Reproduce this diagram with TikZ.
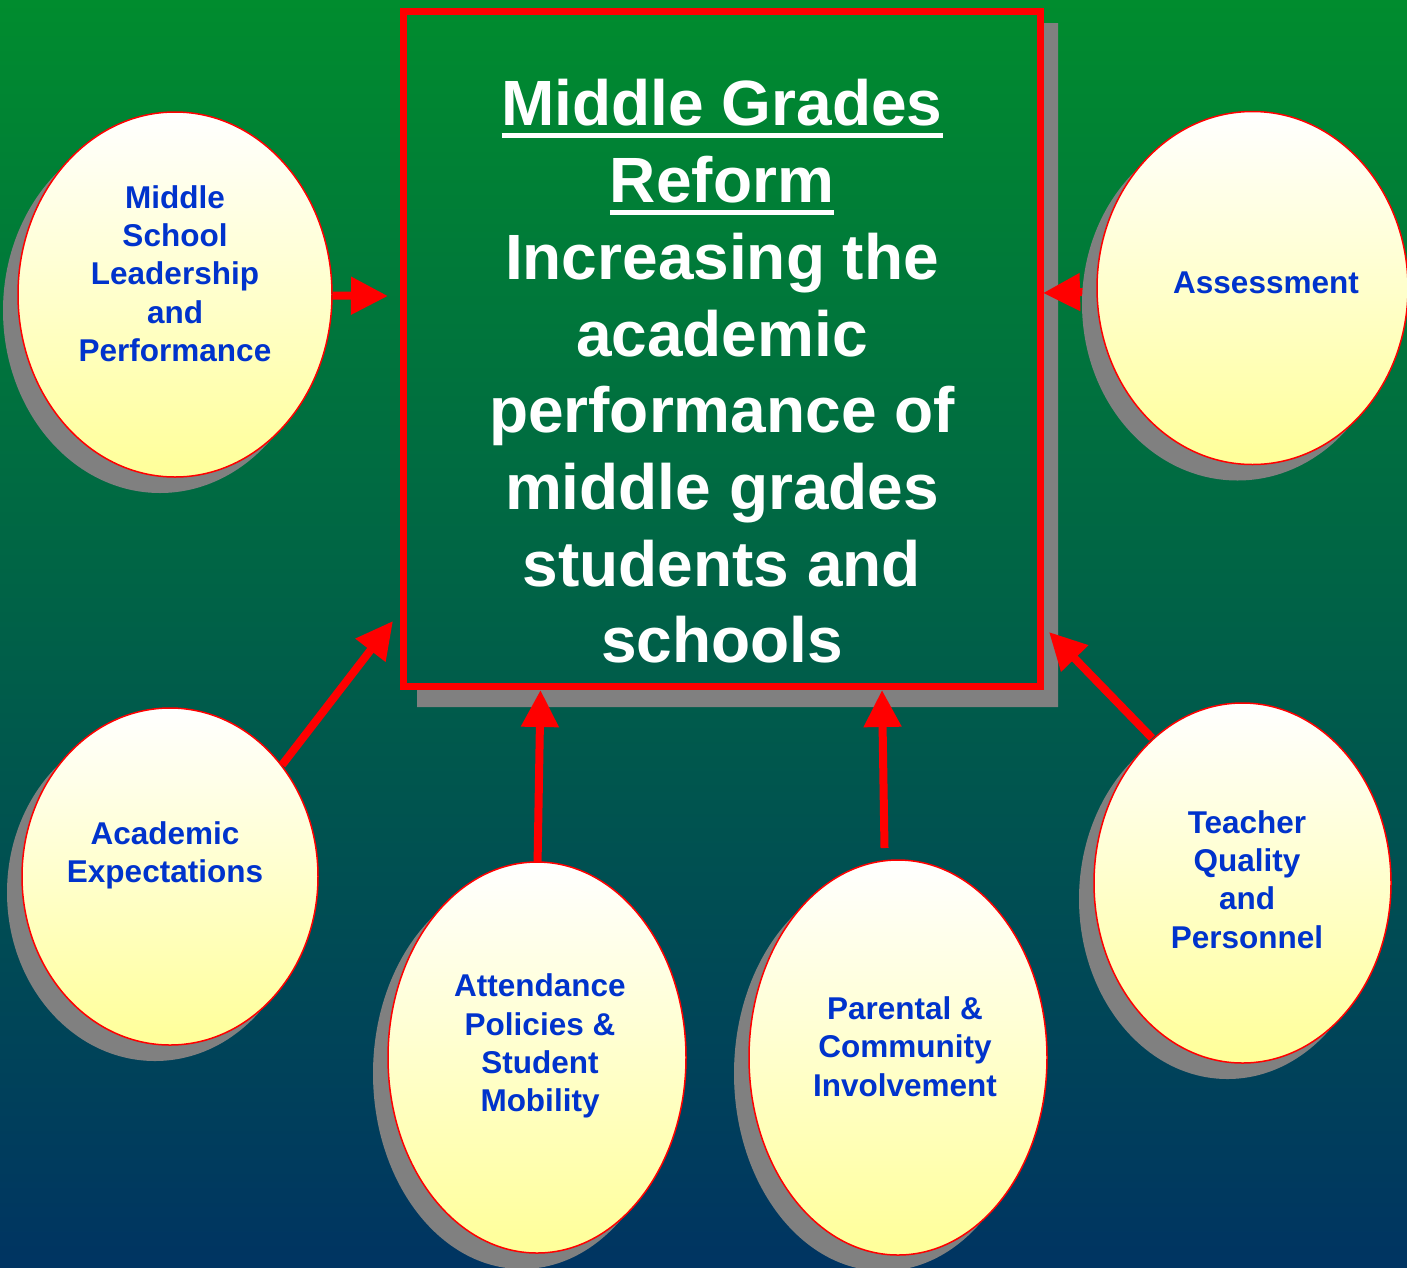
\documentclass[tikz,border=0pt]{standalone}
\usepackage{fontspec}
\setmainfont{Liberation Sans}
\usetikzlibrary{arrows.meta,shadows}
\definecolor{bgtop}{RGB}{0,140,46}
\definecolor{bgbot}{RGB}{0,52,98}
\definecolor{txtblue}{RGB}{0,51,204}
\definecolor{paleyellow}{RGB}{255,255,153}
\definecolor{shadowgray}{RGB}{128,128,128}
\pgfdeclarelayer{back}
\pgfdeclarelayer{arrlayer}
\pgfsetlayers{back,arrlayer,main}
\newcommand\myul[1]{\setbox0=\hbox{#1}\rlap{\rule[-12pt]{\wd0}{5pt}}\box0}
\tikzset{
  ovalnode/.style={ellipse, inner sep=0pt, draw=red, line width=1.5pt,
    top color=white, bottom color=paleyellow,
    drop shadow={shadow xshift=-15pt, shadow yshift=-16pt, fill=shadowgray, opacity=1}},
  smalltext/.style={align=center, text=txtblue, inner sep=0pt,
    font=\bfseries\fontsize{31.5}{38.3}\selectfont},
  bigtext/.style={align=center, text=white, inner sep=0pt,
    font=\bfseries\fontsize{64}{76.7}\selectfont},
  redarrow/.style={draw=red, line width=8pt, -{Triangle[length=37pt,width=36pt]}},
  framebox/.style={draw=red, line width=7pt, inner sep=0pt}
}
\usetikzlibrary{shapes.geometric}
\begin{document}
\begin{tikzpicture}[x=1pt,y=-1pt]
\useasboundingbox (0,0) rectangle (1407,1267);
\clip (0,0) rectangle (1407,1267);
\begin{pgfonlayer}{back}
  \fill[top color=bgtop, bottom color=bgbot] (0,0) rectangle (1407,1267);
  % shadow of the central box (visible L part)
  \fill[shadowgray] (1043,23) -- (1058,23) -- (1058,707) -- (417,707) -- (417,690) -- (1043,690) -- cycle;
\end{pgfonlayer}

% central box
\node[framebox, minimum width=636.5pt, minimum height=675pt] (box) at (721.75,349) {};
\node[bigtext] (title) at (722,371.5) {\myul{Middle Grades}\\ \myul{Reform}\\ Increasing the\\ academic\\ performance of\\ middle grades\\ students and\\ schools};

% ellipses
\node[ovalnode, minimum width=314pt, minimum height=365pt] (e1) at (175,294.5) {};
\node[ovalnode, minimum width=311pt, minimum height=353pt] (e2) at (1252.5,288) {};
\node[ovalnode, minimum width=296pt, minimum height=337pt] (e3) at (170,876.5) {};
\node[ovalnode, minimum width=298pt, minimum height=391pt] (e4) at (537,1057.5) {};
\node[ovalnode, minimum width=298pt, minimum height=395pt] (e5) at (898,1057.5) {};
\node[ovalnode, minimum width=297pt, minimum height=360pt] (e6) at (1242.5,883) {};

% labels
\node[smalltext] (l1) at (175,273.5) {Middle\\ School\\ Leadership\\ and\\ Performance};
\node[smalltext] (l2) at (1266,283) {Assessment};
\node[smalltext] (l3) at (165,855.5) {Academic\\ Expectations};
\node[smalltext] (l4) at (540,1046) {Attendance\\ Policies \&\\ Student\\ Mobility};
\node[smalltext] (l5) at (905,1046.5) {Parental \&\\ Community\\ Involvement};
\node[smalltext] (l6) at (1247,879.5) {Teacher\\ Quality\\ and\\ Personnel};

% arrow end points
\coordinate (t1) at (388,296);
\coordinate (t2) at (1043,293);
\coordinate (s3) at (282,765);
\coordinate (t3) at (393,621);
\coordinate (s4) at (537.5,866);
\coordinate (t4) at (540.5,690);
\coordinate (s5) at (884.5,848);
\coordinate (t5) at (882,690);
\coordinate (s6) at (1152,738);
\coordinate (t6) at (1049,632);

\begin{pgfonlayer}{arrlayer}
  \draw[redarrow] (e1) -- (t1);
  \draw[redarrow] (e2) -- (t2);
  \draw[redarrow] (s3) -- (t3);
  \draw[redarrow] (s4) -- (t4);
  \draw[redarrow] (s5) -- (t5);
  \draw[redarrow] (s6) -- (t6);
\end{pgfonlayer}
\end{tikzpicture}
\end{document}
